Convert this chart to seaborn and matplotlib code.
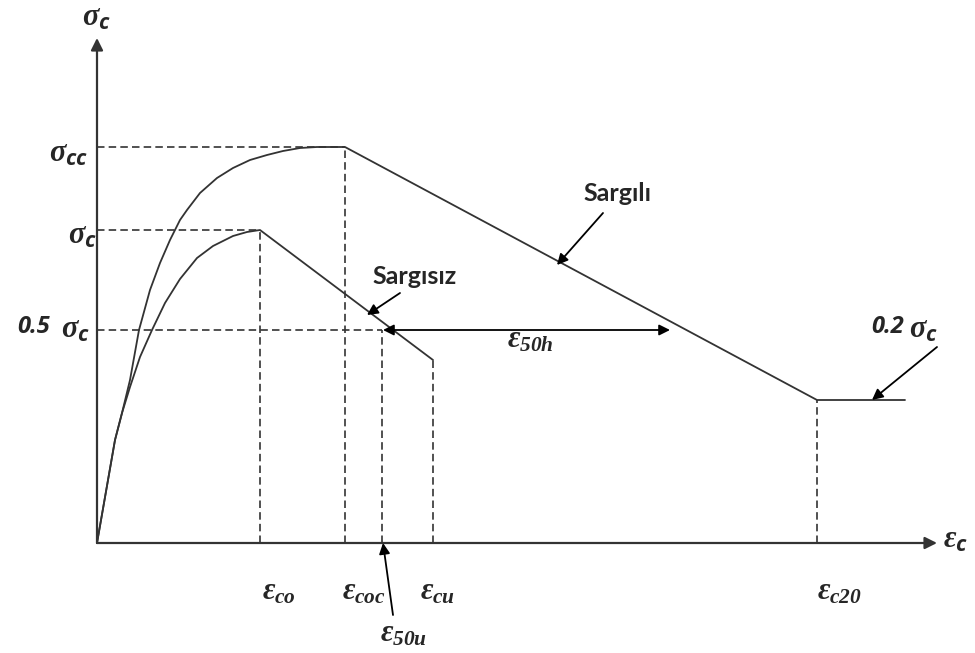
import matplotlib
matplotlib.use("Agg")
import matplotlib.pyplot as plt
import seaborn as sns

# Schematic stress-strain diagram for confined (Sargılı) and unconfined (Sargısız) concrete.
# Units are schematic (arbitrary) strain / stress units.

# Characteristic strains
EPS_CO = 163
EPS_COC = 248
EPS_50U = 285
EPS_CU = 336
EPS_C20 = 720
EPS_END = 808

# Characteristic stresses
SIG_CC = 396
SIG_C = 313
SIG_HALF = 213
SIG_CU = 183
SIG_02 = 143

# Confined concrete curve
conf_eps = [0, 18, 25, 33, 42, 53, 63, 73, 78, 83, 90, 103, 120, 136, 153, 170,
            186, 203, 220, EPS_COC, EPS_C20, EPS_END]
conf_sig = [0, 103, 130, 163, 213, 253, 280, 303, SIG_C, 323, 333, 350, 365, 375, 383, 388,
            392, 395, 396, SIG_CC, SIG_02, SIG_02]

# Unconfined concrete curve
unconf_eps = [0, 18, 25, 33, 43, 55, 68, 83, 100, 116, 136, 150, EPS_CO, EPS_CU]
unconf_sig = [0, 103, 130, 156, 186, SIG_HALF, 240, 264, 285, 297, 307, 311, SIG_C, SIG_CU]

LINE = "#333333"

sns.set_theme(style="white")
plt.rcParams["mathtext.fontset"] = "custom"
plt.rcParams["mathtext.it"] = "Liberation Serif:italic:bold"
plt.rcParams["mathtext.rm"] = "Liberation Serif:italic:bold"
plt.rcParams["mathtext.sf"] = "Open Sans:italic:bold"

fig = plt.figure(figsize=(9.75, 6.53), dpi=100)
ax = fig.add_axes([0, 0, 1, 1])
ax.set_xlim(-97, 878)
ax.set_ylim(-110, 543)
ax.axis("off")

# curves
sns.lineplot(x=conf_eps, y=conf_sig, sort=False, estimator=None, color=LINE, lw=1.3,
             solid_joinstyle="round", ax=ax)
sns.lineplot(x=unconf_eps, y=unconf_sig, sort=False, estimator=None, color=LINE, lw=1.3,
             solid_joinstyle="round", ax=ax)

# dashed guide lines
dash = dict(color=LINE, lw=1.2, ls=(0, (4.5, 2.5)))
ax.plot([0, EPS_COC], [SIG_CC, SIG_CC], **dash)
ax.plot([0, EPS_CO], [SIG_C, SIG_C], **dash)
ax.plot([0, EPS_50U], [SIG_HALF, SIG_HALF], **dash)
ax.plot([EPS_CO, EPS_CO], [0, SIG_C], **dash)
ax.plot([EPS_COC, EPS_COC], [0, SIG_CC], **dash)
ax.plot([EPS_50U, EPS_50U], [0, SIG_HALF], **dash)
ax.plot([EPS_CU, EPS_CU], [0, SIG_CU], **dash)
ax.plot([EPS_C20, EPS_C20], [0, SIG_02], **dash)

# axes with arrow heads
axis_arrow = dict(arrowstyle="-|>", color=LINE, lw=1.6, mutation_scale=18, shrinkA=0, shrinkB=0)
ax.annotate("", xy=(0, 505), xytext=(0, 0), arrowprops=axis_arrow)
ax.annotate("", xy=(840, 0), xytext=(0, 0), arrowprops=axis_arrow)

# pointer arrows
ptr = dict(arrowstyle="-|>", color="black", lw=1.3, mutation_scale=16, shrinkA=0, shrinkB=0)
ax.annotate("", xy=(460, 278), xytext=(506, 330), arrowprops=ptr)
ax.annotate("", xy=(270, 228), xytext=(303, 250), arrowprops=ptr)
ax.annotate("", xy=(775, 143), xytext=(840, 196), arrowprops=ptr)
ax.annotate("", xy=(EPS_50U + 1, 0), xytext=(296, -72), arrowprops=ptr)
ax.annotate("", xy=(573, SIG_HALF), xytext=(EPS_50U + 1, SIG_HALF),
            arrowprops=dict(arrowstyle="<|-|>", color="black", lw=1.3,
                            mutation_scale=16, shrinkA=0, shrinkB=0))

# text labels
FS = 22
NUM = dict(fontsize=17, fontweight="bold", style="italic", family="Open Sans", va="baseline")
ax.text(-1, 517, r"$σ_{\mathsf{c}}$", fontsize=FS, ha="center", va="baseline")
ax.text(-9, 381, r"$σ_{\mathsf{cc}}$", fontsize=FS, ha="right", va="baseline")
ax.text(0, 300, r"$σ_{\mathsf{c}}$", fontsize=FS, ha="right", va="baseline")
ax.text(-47, 210, "0.5", ha="right", **NUM)
ax.text(-7, 206, r"$σ_{\mathsf{c}}$", fontsize=FS, ha="right", va="baseline")
ax.text(774, 210, "0.2", ha="left", **NUM)
ax.text(812, 206, r"$σ_{\mathsf{c}}$", fontsize=FS, ha="left", va="baseline")

ax.text(165, -57, r"$ε_{co}$", fontsize=FS, ha="left", va="baseline")
ax.text(245, -57, r"$ε_{coc}$", fontsize=FS, ha="left", va="baseline")
ax.text(323, -57, r"$ε_{cu}$", fontsize=FS, ha="left", va="baseline")
ax.text(720, -57, r"$ε_{c20}$", fontsize=FS, ha="left", va="baseline")
ax.text(283, -99, r"$ε_{50u}$", fontsize=FS, ha="left", va="baseline")
ax.text(410, 195, r"$ε_{50h}$", fontsize=FS, ha="left", va="baseline")
ax.text(846, -5, r"$ε_{\mathsf{c}}$", fontsize=FS, ha="left", va="baseline")

ax.text(520, 342, "Sargılı", fontsize=18, fontweight="bold", family="Lato",
        ha="center", va="baseline")
ax.text(318, 259, "Sargısız", fontsize=18, fontweight="bold", family="Lato",
        ha="center", va="baseline")

fig.savefig("out.png", dpi=100, facecolor="white")
